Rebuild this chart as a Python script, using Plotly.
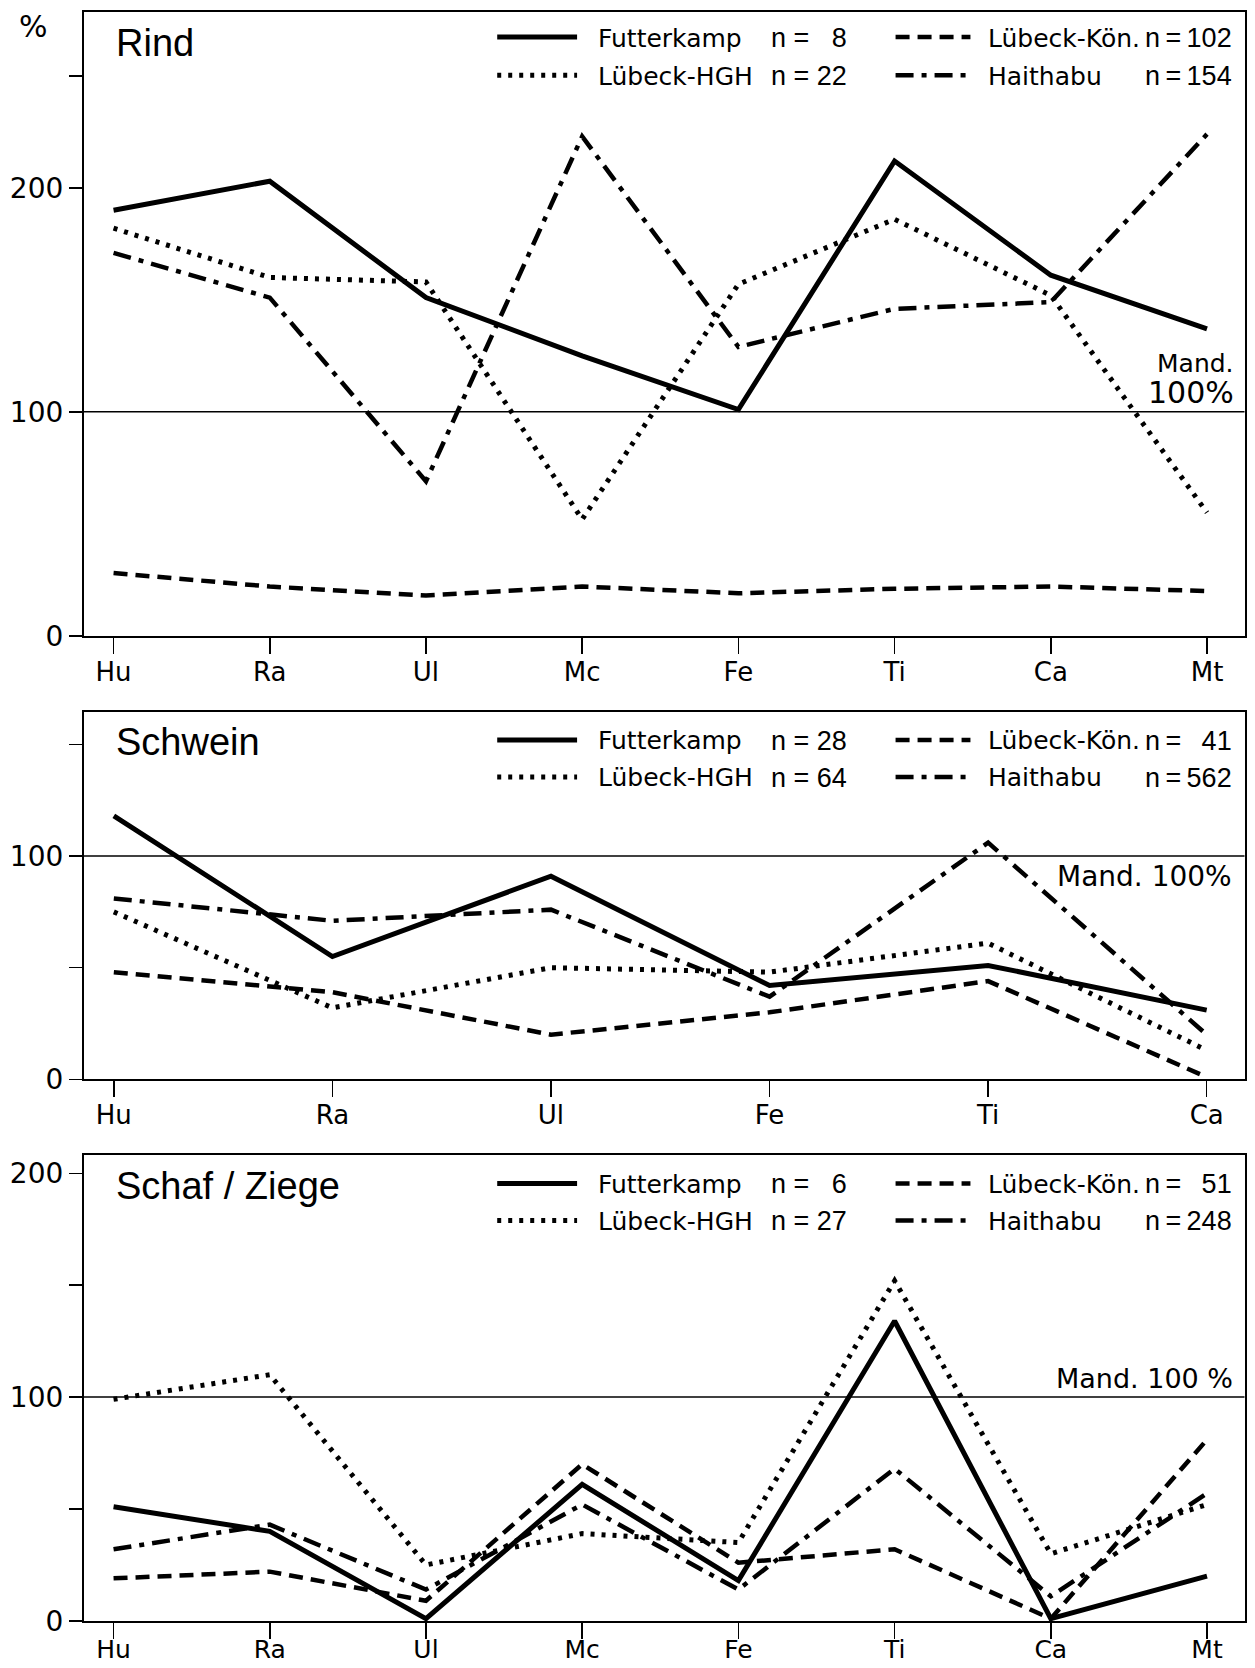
import plotly.graph_objects as go

# Target picture is 1255 x 1668. The photographed page comes out slightly
# squeezed vertically (factor S), and the browser adds an 8px body margin.
PAGE_W = 1255
S = 0.9888
PAGE_H = 1700
OFF = 8
W, H = PAGE_W - 2 * OFF, PAGE_H - 2 * OFF

# ---------------- data ----------------
cats_long = ["Hu", "Ra", "Ul", "Mc", "Fe", "Ti", "Ca", "Mt"]
cats_short = ["Hu", "Ra", "Ul", "Fe", "Ti", "Ca"]

sites = ["Futterkamp", "Lübeck-Kön.", "Lübeck-HGH", "Haithabu"]

rind_futterkamp = [190, 203, 151, 125, 101, 212, 161, 137]
rind_luebeck_koen = [28, 22, 18, 22, 19, 21, 22, 20]
rind_luebeck_hgh = [182, 160, 158, 52, 157, 186, 152, 55]
rind_haithabu = [171, 151, 69, 223, 129, 146, 149, 224]
rind_n = ["8", "102", "22", "154"]

schwein_futterkamp = [118, 55, 91, 42, 51, 31]
schwein_luebeck_koen = [48, 39, 20, 30, 44, 1]
schwein_luebeck_hgh = [75, 32, 50, 48, 61, 13]
schwein_haithabu = [81, 71, 76, 37, 106, 20]
schwein_n = ["28", "41", "64", "562"]

schaf_futterkamp = [51, 40, 1, 61, 18, 134, 1, 20]
schaf_luebeck_koen = [19, 22, 9, 70, 26, 32, 1, 81]
schaf_luebeck_hgh = [99, 110, 25, 39, 35, 152, 30, 52]
schaf_haithabu = [32, 43, 14, 52, 14, 68, 11, 57]
schaf_n = ["6", "51", "27", "248"]

panel_titles = ["Rind", "Schwein", "Schaf / Ziege"]

# ---------------- styles ----------------
styles = {
    "Futterkamp": dict(color="black", width=5, dash="solid"),
    "Lübeck-Kön.": dict(color="black", width=4.5, dash="14px,8px"),
    "Lübeck-HGH": dict(color="black", width=5, dash="4px,7px"),
    "Haithabu": dict(color="black", width=4.5, dash="18px,8px,5px,8px"),
}

FONT_LBL = "DejaVu Sans"
FONT_TTL = "Liberation Sans"
FONT_N = "Liberation Sans"

def px(x):
    """picture x pixel -> paper fraction"""
    return (x - OFF) / W

def py(y):
    """picture y pixel -> paper fraction"""
    return 1 - (y / S - OFF) / H

panels = [
    dict(cats=cats_long,
         data=[rind_futterkamp, rind_luebeck_koen, rind_luebeck_hgh, rind_haithabu],
         n=rind_n, ydom=(12, 635), yrange=[0, 278.5], xrange=[-0.19, 7.24],
         tickvals=[0, 100, 200, 250], ticktext=["0", "100", "200", ""],
         legend_rows=(37, 75), title_y=43, standoff=-4, xfont=26),
    dict(cats=cats_short,
         data=[schwein_futterkamp, schwein_luebeck_koen, schwein_luebeck_hgh, schwein_haithabu],
         n=schwein_n, ydom=(711, 1078), yrange=[0, 164.6], xrange=[-0.137, 5.173],
         tickvals=[0, 50, 100, 150], ticktext=["0", "", "100", ""],
         legend_rows=(739, 776), title_y=741, standoff=-4, xfont=26),
    dict(cats=cats_long,
         data=[schaf_futterkamp, schaf_luebeck_koen, schaf_luebeck_hgh, schaf_haithabu],
         n=schaf_n, ydom=(1154, 1619), yrange=[0, 208], xrange=[-0.19, 7.24],
         tickvals=[0, 50, 100, 150, 200], ticktext=["0", "", "100", "", "200"],
         legend_rows=(1182, 1219), title_y=1185, standoff=-11, xfont=25),
]

fig = go.Figure()
layout_axes = {}
shapes = []
annotations = []

for i, p in enumerate(panels):
    k = "" if i == 0 else str(i + 1)
    xname, yname = "x" + k, "y" + k
    for site, vals in zip(sites, p["data"]):
        fig.add_trace(go.Scatter(
            x=p["cats"], y=vals, mode="lines", name=site,
            line=styles[site], xaxis=xname, yaxis=yname,
            showlegend=False, hoverinfo="skip"))
    layout_axes["xaxis" + k] = dict(
        domain=[px(84), min(1.0, px(1246.5))], anchor=yname, type="category",
        categoryorder="array", categoryarray=p["cats"], range=p["xrange"],
        showline=True, mirror=True, linecolor="black", linewidth=2,
        ticks="outside", ticklen=16, tickwidth=1.5, tickcolor="black",
        ticklabelstandoff=p["standoff"],
        showgrid=False, zeroline=False, fixedrange=True,
        tickfont=dict(family=FONT_LBL, size=p["xfont"], color="black"))
    layout_axes["yaxis" + k] = dict(
        domain=[py(p["ydom"][1]), py(p["ydom"][0])], anchor=xname,
        range=p["yrange"], tickmode="array", tickvals=p["tickvals"],
        ticktext=p["ticktext"], showline=True, mirror=True,
        linecolor="black", linewidth=2, ticks="outside", ticklen=13,
        tickwidth=1.5, tickcolor="black", showgrid=False, zeroline=False,
        fixedrange=True, tickfont=dict(family=FONT_LBL, size=28, color="black"))

    # Mandible 100 % reference line
    shapes.append(dict(type="line", xref=xname + " domain", yref=yname,
                       x0=0, x1=1, y0=100, y1=100,
                       line=dict(color="black", width=1.5)))

    # title
    annotations.append(dict(text=panel_titles[i], xref="paper", yref="paper",
                            x=px(114), y=py(p["title_y"]), xanchor="left",
                            yanchor="middle", showarrow=False,
                            font=dict(family=FONT_TTL, size=38, color="black")))

    # legend (2 x 2)
    r1, r2 = p["legend_rows"]
    grid = [(0, r1, 0), (1, r1, 1), (2, r2, 0), (3, r2, 1)]
    for idx, ry, col in grid:
        site = sites[idx]
        x0, x1, tx, nx = (498, 578, 597, 850) if col == 0 else (897, 972, 988, 1236)
        st = styles[site]
        shapes.append(dict(type="line", xref="paper", yref="paper",
                           x0=px(x0), x1=px(x1), y0=py(ry), y1=py(ry),
                           line=dict(color="black", width=st["width"], dash=st["dash"])))
        annotations.append(dict(text=site, xref="paper", yref="paper",
                                x=px(tx), y=py(ry + 1), xanchor="left", yanchor="middle",
                                showarrow=False,
                                font=dict(family=FONT_LBL, size=25, color="black")))
        nval = p["n"][idx]
        if col == 0:
            ntext = "n = " + "\u2007" * (2 - len(nval)) + nval
        else:
            ntext = "n\u2009=\u2009" + "\u2007" * (3 - len(nval)) + nval
        annotations.append(dict(text=ntext, xref="paper", yref="paper",
                                x=px(nx), y=py(ry + 1), xanchor="right", yanchor="middle",
                                showarrow=False,
                                font=dict(family=FONT_N, size=27, color="black")))

# percent sign (top-left, above the axis)
annotations.append(dict(text="%", xref="paper", yref="paper", x=px(34), y=1.0,
                        xanchor="center", yanchor="top", showarrow=False,
                        borderpad=0,
                        font=dict(family=FONT_LBL, size=30, color="black")))

# Mand. 100 % labels
annotations += [
    dict(text="Mand.", xref="paper", yref="paper", x=px(1238), y=py(363),
         xanchor="right", yanchor="middle", showarrow=False,
         font=dict(family=FONT_LBL, size=25, color="black")),
    dict(text="100%", xref="paper", yref="paper", x=px(1238), y=py(392),
         xanchor="right", yanchor="middle", showarrow=False,
         font=dict(family=FONT_LBL, size=30, color="black")),
    dict(text="Mand. 100%", xref="paper", yref="paper", x=px(1236), y=py(875),
         xanchor="right", yanchor="middle", showarrow=False,
         font=dict(family=FONT_LBL, size=28, color="black")),
    dict(text="Mand. 100 %", xref="paper", yref="paper", x=px(1237), y=py(1377),
         xanchor="right", yanchor="middle", showarrow=False,
         font=dict(family=FONT_LBL, size=27, color="black")),
]

fig.update_layout(
    width=W, height=H,
    margin=dict(l=0, r=0, t=0, b=0),
    paper_bgcolor="white", plot_bgcolor="white",
    showlegend=False,
    shapes=shapes, annotations=annotations,
    **layout_axes,
)

fig.write_html("out.html", config={"displayModeBar": False, "staticPlot": True})
